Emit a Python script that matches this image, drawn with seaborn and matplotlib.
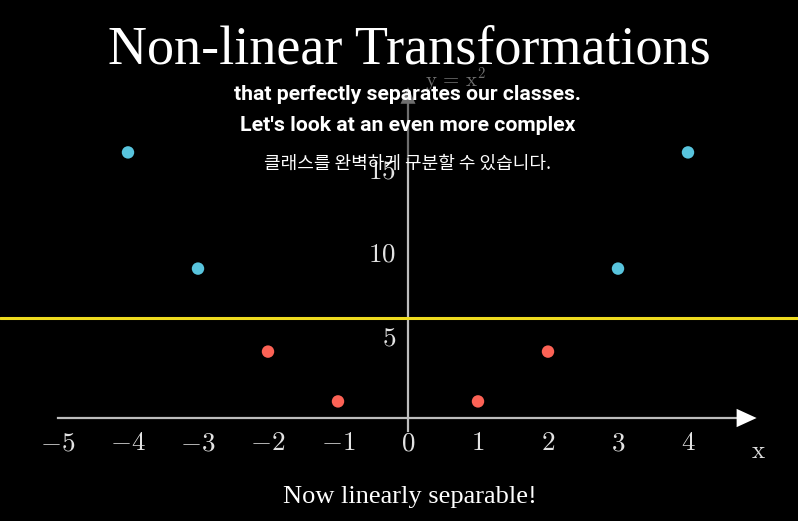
import matplotlib
matplotlib.use("Agg")
import matplotlib.pyplot as plt
import seaborn as sns

# points after mapping x -> x^2
x_vals = [-4, -3, -2, -1, 1, 2, 3, 4]
y_vals = [16, 9, 4, 1, 1, 4, 9, 16]
classes = ["outer", "outer", "inner", "inner", "inner", "inner", "outer", "outer"]
threshold = 6

x_ticks = [-5, -4, -3, -2, -1, 0, 1, 2, 3, 4]
y_ticks = [5, 10, 15]

title = "Non-linear Transformations"
sub1 = "that perfectly separates our classes."
sub2 = "Let's look at an even more complex"
sub_kr = "클래스를 완벽하게 구분할 수 있습니다."
caption = "Now linearly separable!"

sns.set_theme(style="white")
plt.rcParams["mathtext.fontset"] = "cm"

W, H = 798, 521
fig = plt.figure(figsize=(W / 100, H / 100), dpi=100, facecolor="black")
ax = fig.add_axes([0, 0, 1, 1])
ax.set_facecolor("black")

# pixel layout: origin at (408, 418), 70 px per x unit, 16.6 px per y unit
ax.set_xlim(-408 / 70, (W - 408) / 70)
ax.set_ylim(-(H - 418) / 16.6, 418 / 16.6)

axis_col = "#BDBDBD"
for s in ["top", "right"]:
    ax.spines[s].set_visible(False)
ax.spines["bottom"].set_position(("data", 0))
ax.spines["left"].set_position(("data", 0))
ax.spines["bottom"].set_bounds(-5, 4.7)
ax.spines["left"].set_bounds(-0.8, 15.6)
for s in ["bottom", "left"]:
    ax.spines[s].set_color(axis_col)
    ax.spines[s].set_linewidth(1.6)

# faded upper part of the y axis and its arrow
ax.plot([0, 0], [15.6, 19.0], color="#6E6E6E", lw=1.6)
ax.annotate("", xy=(0, 20.1), xytext=(0, 18.8),
            arrowprops=dict(arrowstyle="-|>,head_width=0.45,head_length=1.0",
                            color="#6E6E6E", lw=0))
ax.annotate("", xy=(5.02, 0), xytext=(4.6, 0),
            arrowprops=dict(arrowstyle="-|>,head_width=0.55,head_length=1.2",
                            color="white", lw=0))

ax.set_xticks(x_ticks, labels=[f"${v}$" for v in x_ticks])
ax.set_yticks(y_ticks, labels=[f"${v}$" for v in y_ticks])
ax.tick_params(axis="x", direction="inout", length=10, width=1.5, color=axis_col,
               labelcolor="#E2E2E2", labelsize=19.5, pad=4)
ax.tick_params(axis="y", direction="inout", length=11, width=1.5, color=axis_col,
               labelcolor="#E2E2E2", labelsize=19.5, pad=3)
ax.grid(False)

ax.axhline(threshold, color="#EEDB1F", lw=2.2, zorder=3)

sns.scatterplot(x=x_vals, y=y_vals, hue=classes,
                palette={"outer": "#58C4DD", "inner": "#FC6255"},
                s=80, edgecolor="none", legend=False, ax=ax, zorder=5)

ax.text(0.24, 19.94, r"$\mathrm{y\,=\,x^2}$", color="#6E6E6E", fontsize=15, va="baseline")
ax.text(5.0, -2.0, r"$\mathrm{x}$", color="#DDDDDD", fontsize=18, ha="center", va="center")

fig.text(409 / W, 1 - 63 / H, title, color="white", fontsize=39,
         family="Liberation Serif", ha="center", va="baseline")
fig.text(410 / W, 1 - 503 / H, caption, color="white", fontsize=19,
         family="Liberation Serif", ha="center", va="baseline")
fig.text(408 / W, 1 - 100 / H, sub1, color="white", fontsize=15.2,
         family="Roboto", weight="bold", ha="center", va="baseline")
fig.text(408 / W, 1 - 131 / H, sub2, color="white", fontsize=15.3,
         family="Roboto", weight="bold", ha="center", va="baseline")
fig.text(408 / W, 1 - 169 / H, sub_kr, color="white", fontsize=13,
         family=["Noto Sans CJK KR", "DejaVu Sans"], ha="center", va="baseline")

fig.savefig("out.png", dpi=100, facecolor="black")
